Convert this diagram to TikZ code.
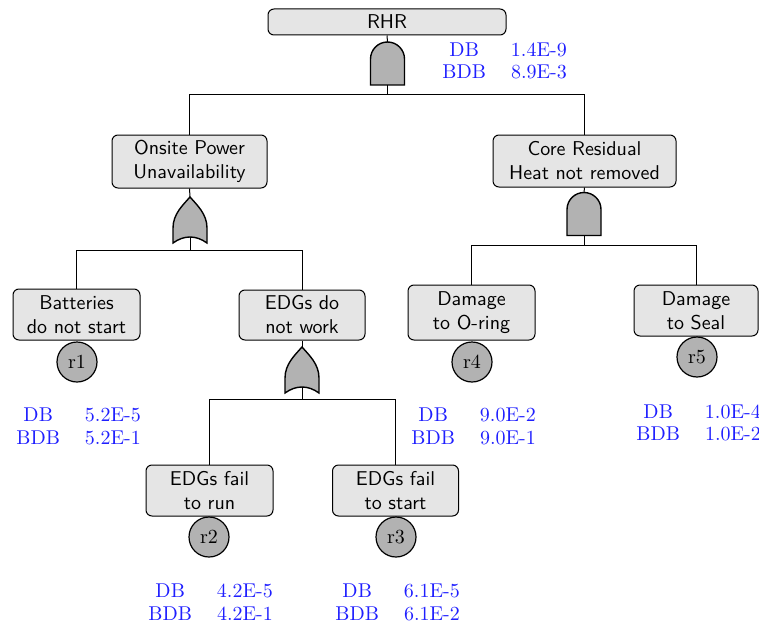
\documentclass[tikz,border=0pt]{standalone}
\usetikzlibrary{calc}
\tikzset{
  event/.style={draw, rounded corners=3pt, fill=gray!20, font=\sffamily,
    align=center, inner sep=0pt, line width=0.5pt},
  basic/.style={draw, circle, fill=gray!60, minimum size=20pt, inner sep=0pt,
    line width=0.6pt},
  data/.style={text=blue!88, inner sep=0pt, anchor=west},
  wire/.style={line width=0.5pt},
  gateshape/.style={draw, fill=gray!60, line width=0.7pt},
  andgate/.pic={
    \path[gateshape] (-17,21.5) -- (-17,-4.5)
      arc[start angle=180, end angle=360, radius=17] -- (17,21.5) -- cycle;
    \coordinate (-top) at (0,-21.5);
    \coordinate (-bot) at (0,21.5);
  },
  orgate/.pic={
    \path[gateshape] (-17,23) -- (-17,8)
      .. controls (-17,-6) and (-7,-15) .. (0,-23)
      .. controls (7,-15) and (17,-6) .. (17,8)
      -- (17,23)
      .. controls (6,15) and (-6,15) .. (-17,23) -- cycle;
    \coordinate (-top) at (0,-23);
    \coordinate (-bot) at (0,17);
  },
}
\newcommand{\ftdata}[2]{{\renewcommand{\arraystretch}{0.95}%
  \begin{tabular}{@{}c@{\hspace{12.5pt}}l@{}}DB & #1\\ BDB & #2\end{tabular}}}
\begin{document}
\begin{tikzpicture}[x=0.5pt,y=-0.5pt]
\useasboundingbox (0,0) rectangle (759,631);

% events
\node[event, minimum width=119pt, minimum height=13pt] (rhr) at (387,22) {RHR};
\node[event, minimum width=77.5pt, minimum height=26.5pt] (onsite) at (189.5,161.5) {Onsite Power\\Unavailability};
\node[event, minimum width=91.5pt, minimum height=26pt] (core) at (584.5,161) {Core Residual\\Heat not removed};
\node[event, minimum width=63.5pt, minimum height=25.5pt] (batt) at (76.5,314.5) {Batteries\\do not start};
\node[event, minimum width=63pt, minimum height=25pt] (edgs) at (302,315) {EDGs do\\not work};
\node[event, minimum width=63.5pt, minimum height=27.5pt] (oring) at (471.5,312.5) {Damage\\to O-ring};
\node[event, minimum width=62pt, minimum height=25.5pt] (seal) at (696,310.5) {Damage\\to Seal};
\node[event, minimum width=63.5pt, minimum height=25.5pt] (run) at (209.5,490.5) {EDGs fail\\to run};
\node[event, minimum width=63pt, minimum height=25.5pt] (start) at (395.5,490.5) {EDGs fail\\to start};

% basic events
\node[basic] (r1) at (77,362) {r1};
\node[basic] (r2) at (209,537) {r2};
\node[basic] (r3) at (396,537) {r3};
\node[basic] (r4) at (472,362) {r4};
\node[basic] (r5) at (697,357) {r5};

% gates
\pic (gA) at (387.5,63.5) {andgate};
\pic (gB) at (190,220) {orgate};
\pic (gC) at (584,214) {andgate};
\pic (gD) at (302,370) {orgate};

% junction points under the gates
\coordinate (jA) at (387.5,95);
\coordinate (jB) at (190,250);
\coordinate (jC) at (584,245);
\coordinate (jD) at (302,399);

% connectors
\draw[wire] (rhr.south) -- (gA-top);
\draw[wire] (gA-bot) -- (jA);
\draw[wire] (onsite.north) |- (jA);
\draw[wire] (core.north) |- (jA);

\draw[wire] (onsite.south) -- (gB-top);
\draw[wire] (gB-bot) -- (jB);
\draw[wire] (batt.north) |- (jB);
\draw[wire] (edgs.north) |- (jB);

\draw[wire] (core.south) -- (gC-top);
\draw[wire] (gC-bot) -- (jC);
\draw[wire] (oring.north) |- (jC);
\draw[wire] (seal.north) |- (jC);

\draw[wire] (edgs.south) -- (gD-top);
\draw[wire] (gD-bot) -- (jD);
\draw[wire] (run.north) |- (jD);
\draw[wire] (start.north) |- (jD);

% probability figures
\node[data] (dA) at (442,63) {\ftdata{1.4E-9}{8.9E-3}};
\node[data] (d1) at (16,428.5) {\ftdata{5.2E-5}{5.2E-1}};
\node[data] (d4) at (411,428.5) {\ftdata{9.0E-2}{9.0E-1}};
\node[data] (d5) at (636,425) {\ftdata{1.0E-4}{1.0E-2}};
\node[data] (d2) at (148,604.5) {\ftdata{4.2E-5}{4.2E-1}};
\node[data] (d3) at (335,604.5) {\ftdata{6.1E-5}{6.1E-2}};
\end{tikzpicture}
\end{document}
